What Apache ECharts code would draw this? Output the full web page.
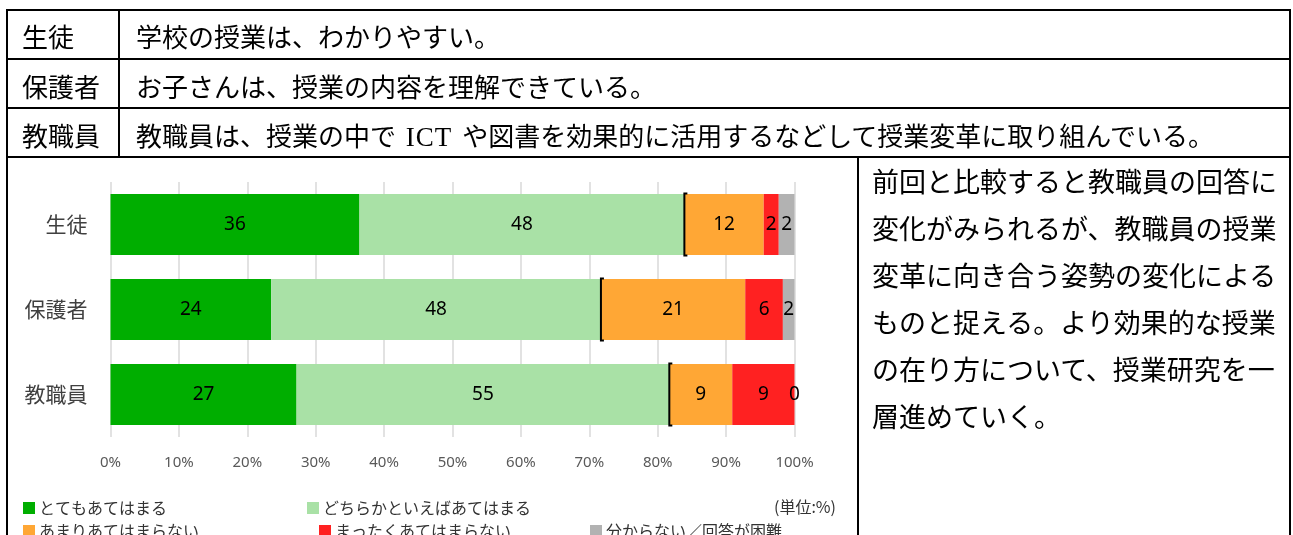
<!DOCTYPE html>
<html>
<head>
<meta charset="utf-8">
<script src="https://cdn.jsdelivr.net/npm/echarts@6.0.0/dist/echarts.min.js"></script>
<style>
html,body{margin:0;padding:0;background:#fff;}
body{width:1293px;height:535px;position:relative;overflow:hidden;font-family:"Noto Sans CJK JP",sans-serif;color:#000;}
#chart{position:absolute;left:0;top:0;width:1293px;height:535px;}
.ln{position:absolute;background:#000;}
.cell{position:absolute;font-size:26px;line-height:48px;height:48px;white-space:nowrap;}
.serif{font-family:"Liberation Serif",serif;font-size:27px;letter-spacing:1px;margin:0 4px;}
#memo{position:absolute;left:872px;top:157px;font-size:27px;line-height:47px;white-space:nowrap;}
</style>
</head>
<body>
<div id="chart"></div>

<!-- 表の罫線 -->
<div class="ln" style="left:6px;top:9px;width:1285px;height:2px"></div>
<div class="ln" style="left:6px;top:58px;width:1285px;height:2px"></div>
<div class="ln" style="left:6px;top:107px;width:1285px;height:2px"></div>
<div class="ln" style="left:6px;top:156px;width:1285px;height:2px"></div>
<div class="ln" style="left:6px;top:9px;width:2px;height:526px"></div>
<div class="ln" style="left:1289px;top:9px;width:2px;height:526px"></div>
<div class="ln" style="left:118px;top:9px;width:2px;height:149px"></div>
<div class="ln" style="left:857px;top:156px;width:2px;height:379px"></div>

<div class="cell" style="left:22px;top:12px">生徒</div>
<div class="cell" style="left:136px;top:12px">学校の授業は、わかりやすい。</div>
<div class="cell" style="left:22px;top:62px">保護者</div>
<div class="cell" style="left:136px;top:62px">お子さんは、授業の内容を理解できている。</div>
<div class="cell" style="left:22px;top:111px">教職員</div>
<div class="cell" style="left:136px;top:111px">教職員は、授業の中で <span class="serif">ICT</span> や図書を効果的に活用するなどして授業変革に取り組んでいる。</div>

<div id="memo">前回と比較すると教職員の回答に<br>変化がみられるが、教職員の授業<br>変革に向き合う姿勢の変化による<br>ものと捉える。より効果的な授業<br>の在り方について、授業研究を一<br>層進めていく。</div>

<script>
// 回答者区分
var categories = ['生徒', '保護者', '教職員'];
// 回答項目
var answers = ['とてもあてはまる', 'どちらかといえばあてはまる', 'あまりあてはまらない', 'まったくあてはまらない', '分からない／回答が困難'];
// 各項目の割合(%)
var veryTrue = [36.4, 23.5, 27.2];
var ratherTrue = [47.5, 48.2, 54.5];
var ratherNot = [11.6, 21.1, 9.2];
var notAtAll = [2.2, 5.5, 9.1];
var unknown = [2.3, 1.7, 0];
var xTicks = [0, 10, 20, 30, 40, 50, 60, 70, 80, 90, 100];

var colors = ['#00AE00', '#A9E1A6', '#FFA735', '#FF2121', '#B2B2B2'];
var labelsize = 19, catsize = 21, axsize = 15, legsize = 16;

var myChart = echarts.init(document.getElementById('chart'));

var seriesData = [veryTrue, ratherTrue, ratherNot, notAtAll, unknown];
var series = seriesData.map(function (d, k) {
	return {
		name: answers[k],
		type: 'bar',
		stack: 'total',
		barWidth: 61,
		data: d,
		itemStyle: {color: colors[k]},
		label: {
			show: true,
			position: 'inside',
			color: '#000',
			fontSize: labelsize,
			fontFamily: 'Noto Sans',
			formatter: function (p) { return Math.round(p.value); }
		}
	};
});

// 肯定的回答の区切り線
series.push({
	type: 'custom',
	z: 5,
	silent: true,
	encode: {x: 0, y: 1},
	data: categories.map(function (c, i) { return [veryTrue[i] + ratherTrue[i], i]; }),
	renderItem: function (params, api) {
		var p = api.coord([api.value(0), api.value(1)]);
		var h = 31;
		return {
			type: 'polyline',
			shape: {points: [[p[0] + 3, p[1] - h], [p[0], p[1] - h], [p[0], p[1] + h], [p[0] + 3, p[1] + h]]},
			style: {stroke: '#000', lineWidth: 2, fill: null}
		};
	}
});

function leg(name, left, top) {
	return {
		data: [name],
		left: left,
		top: top,
		padding: 0,
		icon: 'rect',
		itemWidth: 12,
		itemHeight: 12,
		selectedMode: false,
		textStyle: {fontSize: legsize, color: '#333', fontFamily: 'Noto Sans CJK JP', padding: [0, 0, 0, -1]}
	};
}

var option = {
	animation: false,
	color: colors,
	textStyle: {fontFamily: 'Noto Sans CJK JP'},
	grid: {left: 110.5, top: 182, width: 684, height: 255},
	title: {
		text: '(単位:%)',
		left: 774,
		top: 499,
		padding: 0,
		textStyle: {fontSize: legsize, fontWeight: 'normal', color: '#333', fontFamily: 'Noto Sans CJK JP'}
	},
	legend: [
		leg(answers[0], 23, 500),
		leg(answers[1], 307, 500),
		leg(answers[2], 23, 523),
		leg(answers[3], 319, 523),
		leg(answers[4], 590, 523)
	],
	xAxis: {
		type: 'value',
		min: xTicks[0],
		max: xTicks[xTicks.length - 1],
		interval: xTicks[1] - xTicks[0],
		axisLine: {show: false},
		axisTick: {show: false},
		splitLine: {show: true, lineStyle: {color: '#D9D9D9', width: 1.5}},
		axisLabel: {fontSize: axsize, color: '#595959', margin: 18, fontFamily: 'Noto Sans', formatter: '{value}%'}
	},
	yAxis: {
		type: 'category',
		inverse: true,
		data: categories,
		axisLine: {show: false},
		axisTick: {show: false},
		axisLabel: {fontSize: catsize, color: '#404040', margin: 23}
	},
	series: series
};
myChart.setOption(option);
</script>
</body>
</html>
